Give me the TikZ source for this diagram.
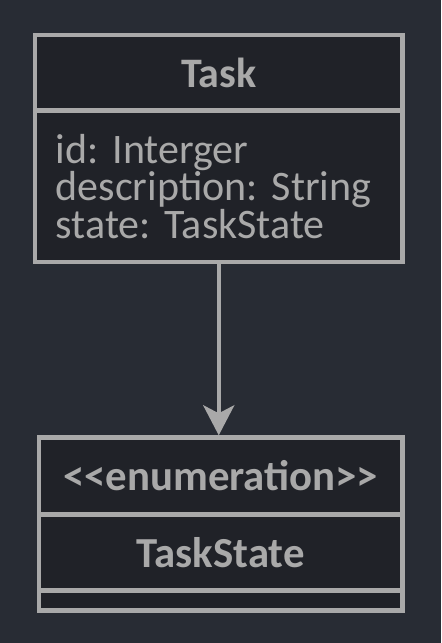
\documentclass[tikz,border=0pt]{standalone}
\usepackage{fontspec}
\setmainfont{Carlito}
\usepackage{tikz}
\usetikzlibrary{arrows.meta, positioning}
\definecolor{umlbg}{HTML}{282C34}
\definecolor{umlfill}{HTML}{202228}
\definecolor{umlgray}{HTML}{A9A9A9}
\frenchspacing

\begin{document}
\begin{tikzpicture}[
    part/.style={rectangle, draw=umlgray, fill=umlfill, line width=2.25pt, outer sep=0pt, inner sep=0pt, text=umlgray},
    classname/.style={part, minimum width=183.75pt, font=\fontsize{21pt}{25pt}\selectfont\bfseries},
    attrs/.style={part, text width=163pt, inner xsep=10.375pt, align=left, font=\fontsize{21pt}{18.75pt}\selectfont},
    enumpart/.style={part, minimum width=181.75pt, font=\fontsize{21.4pt}{25pt}\selectfont\bfseries},
    arrow/.style={-{Stealth[length=15pt, width=15.5pt, inset=4pt]}, line width=2.25pt, draw=umlgray}
]

\fill[umlbg] (0,0) rectangle (220.5pt,-321.5pt);

% class Task
\node[classname, minimum height=37.75pt] (task) at (109.375pt,-36.375pt) {Task};
\node[attrs, minimum height=75.75pt, below=0pt of task] (taskattr) {id: Interger\\description: String\\state: TaskState};

% enumeration TaskState
\node[enumpart, minimum height=38.5pt, below=87.75pt of taskattr, xshift=1pt] (stereo) {<\kern0pt<enumeration>\kern0pt>};
\node[enumpart, minimum height=38pt, below=0pt of stereo] (state) {TaskState};
\node[enumpart, minimum height=10pt, below=0pt of state] (values) {};

\draw[arrow, shorten >=1.1pt] (taskattr) -- (taskattr.south |- stereo.north);

\end{tikzpicture}
\end{document}
